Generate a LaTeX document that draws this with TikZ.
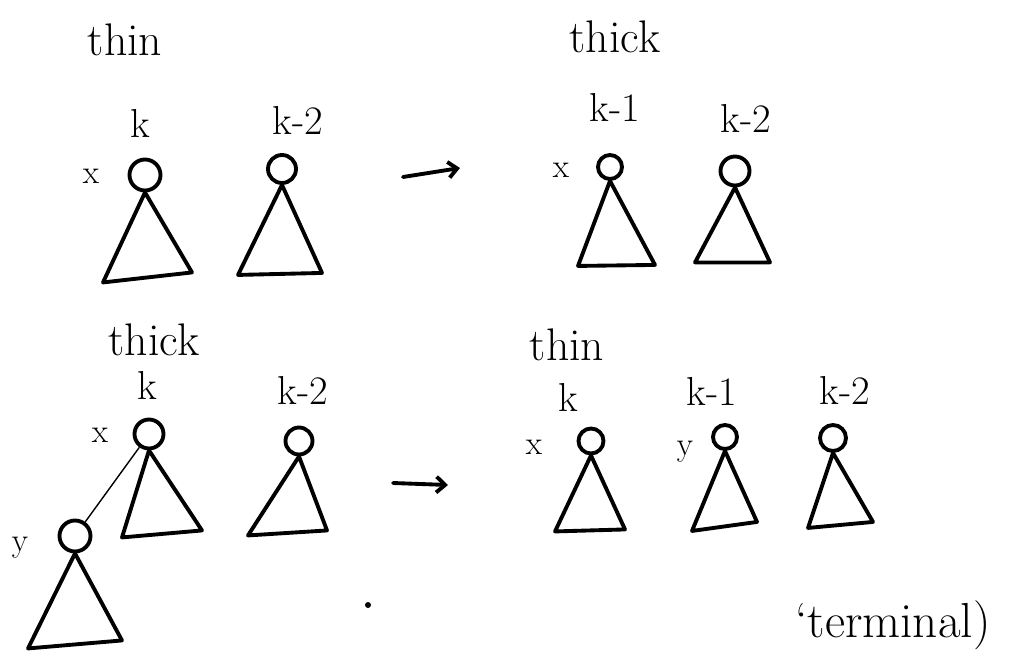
\documentclass[tikz,border=0pt]{standalone}
\usepackage{tikz}
\usetikzlibrary{calc, arrows.meta}

\tikzset{
  nodo/.style={circle, draw, line width=2.2pt, inner sep=0pt, minimum size=0.58cm},
  albero/.style={line width=2.2pt, line join=round, line cap=round},
  freccia/.style={line width=2.2pt, line cap=round, -{Straight Barb[length=5pt,width=9pt]}},
  titolo/.style={font=\fontsize{26}{28}\selectfont},
  etichetta/.style={font=\fontsize{23}{25}\selectfont},
  lettera/.style={font=\fontsize{19}{21}\selectfont}
}

\begin{document}
\begin{tikzpicture}
        \useasboundingbox (0,0) rectangle (20.56,-13.4);
        %in alto a sinistra
        \node[titolo] (t1) at (2.50,-0.80) {thin};
        \node[nodo, minimum size=0.62cm] (a1) at (2.90,-3.50) {};
        \node[nodo, minimum size=0.56cm] (a2) at (5.64,-3.38) {};
        \draw[albero] (a1.south) --++ (-0.84,-1.80) --++ (1.78,0.20) -- cycle;
        \draw[albero] (a2.south) --++ (-0.88,-1.80) --++ (1.68,0.04) -- cycle;
        \node[etichetta] (la1) at (2.80,-2.46) {k};
        \node[etichetta] (la2) at (5.96,-2.40) {k-2};
        \node[lettera] (xa) at (1.82,-3.52) {x};
        %freccia in alto
        \coordinate (f1a) at (8.06,-3.54);
        \coordinate (f1b) at (9.20,-3.36);
        \draw[freccia] (f1a) -- (f1b);
        %in alto a destra
        \node[titolo] (t2) at (12.30,-0.74) {thick};
        \node[nodo, minimum size=0.48cm] (b1) at (12.20,-3.34) {};
        \node[nodo, minimum size=0.58cm] (b2) at (14.70,-3.42) {};
        \draw[albero] (b1.south) --++ (-0.64,-1.70) --++ (1.54,0.02) -- cycle;
        \draw[albero] (b2.south) --++ (-0.80,-1.50) --++ (1.50,0) -- cycle;
        \node[etichetta] (lb1) at (12.30,-2.14) {k-1};
        \node[etichetta] (lb2) at (14.92,-2.36) {k-2};
        \node[lettera] (xb) at (11.22,-3.40) {x};
        %in basso a sinistra
        \node[titolo] (t3) at (3.08,-6.80) {thick};
        \node[nodo] (c1) at (2.98,-8.68) {};
        \node[nodo, minimum size=0.54cm] (c2) at (5.98,-8.82) {};
        \node[nodo, minimum size=0.62cm] (c3) at (1.50,-10.72) {};
        \draw[albero] (c1.south) --++ (-0.54,-1.74) --++ (1.60,0.14) -- cycle;
        \draw[albero] (c2.south) --++ (-1.02,-1.58) --++ (1.58,0.10) -- cycle;
        \draw[albero] (c3.south) --++ (-0.94,-1.90) --++ (1.88,0.16) -- cycle;
        \draw[line width=0.8pt] (c1) -- (c3);
        \node[etichetta] (lc1) at (2.94,-7.70) {k};
        \node[etichetta] (lc2) at (6.06,-7.80) {k-2};
        \node[lettera] (xc) at (2.00,-8.70) {x};
        \node[lettera] (yc) at (0.40,-10.96) {y};
        \fill (7.36,-12.10) circle (0.06);
        %freccia in basso
        \coordinate (f2a) at (7.86,-9.66);
        \coordinate (f2b) at (8.96,-9.70);
        \draw[freccia] (f2a) -- (f2b);
        %in basso a destra
        \node[titolo] (t4) at (11.34,-6.90) {thin};
        \node[nodo, minimum size=0.50cm] (d1) at (11.82,-8.82) {};
        \node[nodo, minimum size=0.48cm] (d2) at (14.50,-8.74) {};
        \node[nodo, minimum size=0.52cm] (d3) at (16.66,-8.76) {};
        \draw[albero] (d1.south) --++ (-0.72,-1.52) --++ (1.40,0.04) -- cycle;
        \draw[albero] (d2.south) --++ (-0.66,-1.60) --++ (1.30,0.18) -- cycle;
        \draw[albero] (d3.south) --++ (-0.50,-1.50) --++ (1.30,0.12) -- cycle;
        \node[etichetta] (ld1) at (11.36,-7.94) {k};
        \node[etichetta] (ld2) at (14.24,-7.82) {k-1};
        \node[etichetta] (ld3) at (16.90,-7.80) {k-2};
        \node[lettera] (xd) at (10.68,-8.94) {x};
        \node[lettera] (yd) at (13.70,-9.04) {y};
        %nota
        \node[font=\fontsize{28}{30}\selectfont] (nota) at (17.86,-12.50) {`terminal)};
\end{tikzpicture}
\end{document}
